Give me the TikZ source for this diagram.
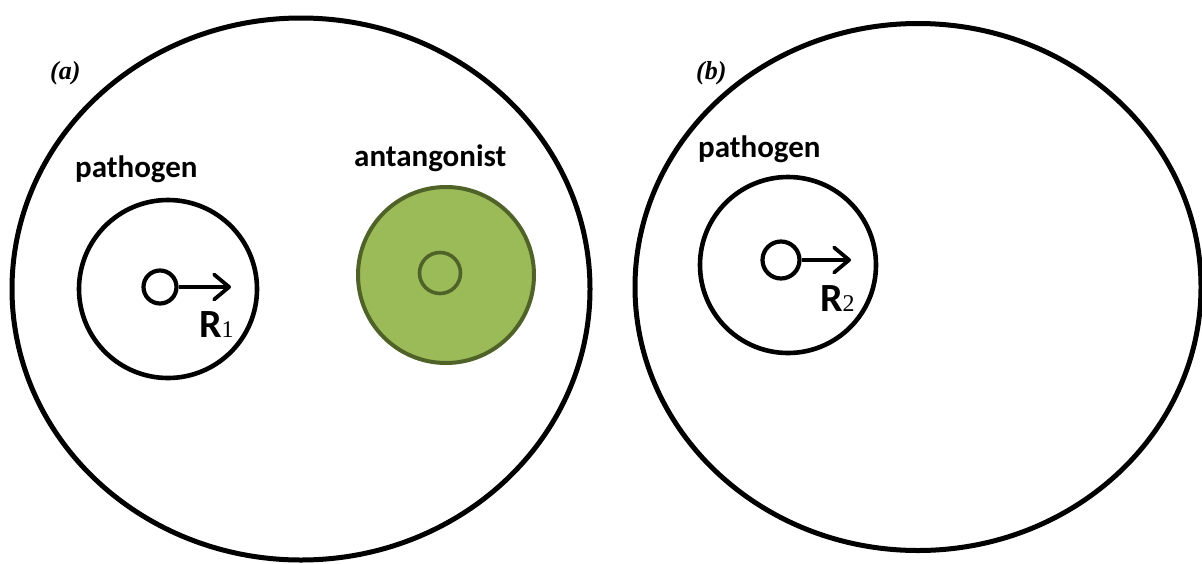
\documentclass[tikz,border=0pt]{standalone}
\usepackage{fontspec}
\setmainfont{Carlito}
\newfontfamily\serifnum{Liberation Serif}
\usetikzlibrary{arrows.meta,shapes.geometric}
\definecolor{olivefill}{HTML}{9BBB59}
\definecolor{olivedraw}{HTML}{4F6228}
\tikzset{
  bigring/.style={draw=black, line width=5pt, ellipse, inner sep=0pt},
  pathring/.style={draw=black, line width=4.6pt, circle, inner sep=0pt},
  coredot/.style={draw=black, line width=4.2pt, circle, inner sep=0pt, fill=white},
  antring/.style={draw=olivedraw, fill=olivefill, line width=4pt, circle, inner sep=0pt},
  antcore/.style={draw=olivedraw, line width=3.6pt, circle, inner sep=0pt},
  radarrow/.style={line width=3.8pt, -{Straight Barb[length=15pt,width=25pt,round]}},
  lbl/.style={font=\fontsize{31}{36}\selectfont\bfseries, inner sep=0pt, anchor=base west},
  panel/.style={font=\fontsize{26}{30}\serifnum\bfseries\itshape, inner sep=0pt, anchor=base west},
  rlbl/.style={inner sep=0pt, anchor=base west}
}
\begin{document}
\begin{tikzpicture}[x=1pt,y=-1pt]
\useasboundingbox (0,0) rectangle (1202,563);
% panel (a)
\node[bigring, minimum width=578pt, minimum height=542pt] (outerA) at (301,289) {};
\node[pathring, minimum size=178pt] (pathA) at (168,289) {};
\node[coredot, minimum size=33pt] (coreA) at (160,287) {};
\coordinate (tipA) at (231,287);
\draw[radarrow] (coreA.east) -- (tipA);
\node[rlbl] (rA) at (199,337) {{\fontsize{40}{42}\selectfont\bfseries R}{\fontsize{24}{26}\serifnum 1}};
\node[lbl] (pathlblA) at (75,177) {pathogen};
\node[antring, minimum size=176pt] (antA) at (446,275) {};
\node[antcore, minimum size=41pt] (antcoreA) at (440,273) {};
\node[lbl] (antlbl) at (354,166) {antangonist};
\node[panel] (labA) at (50,79) {(a)};
% panel (b)
\node[bigring, minimum width=566pt, minimum height=527pt] (outerB) at (918,287) {};
\node[pathring, minimum size=176pt] (pathB) at (788,265) {};
\node[coredot, minimum size=37pt] (coreB) at (781,260) {};
\coordinate (tipB) at (851,260);
\draw[radarrow] (coreB.east) -- (tipB);
\node[rlbl] (rB) at (820,311) {{\fontsize{40}{42}\selectfont\bfseries R}{\fontsize{24}{26}\serifnum 2}};
\node[lbl] (pathlblB) at (698,157) {pathogen};
\node[panel] (labB) at (696,79) {(b)};
\end{tikzpicture}
\end{document}
